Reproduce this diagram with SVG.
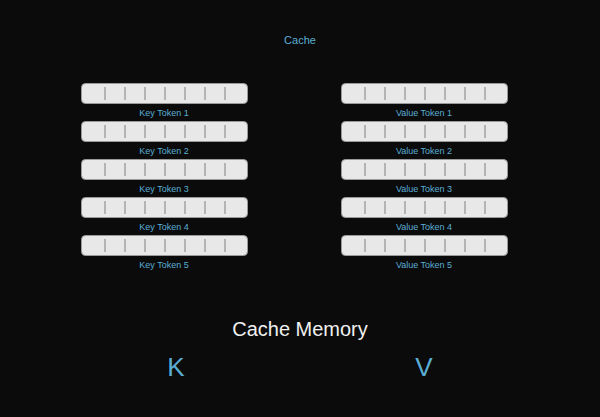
<svg xmlns="http://www.w3.org/2000/svg" width="600" height="417" viewBox="0 0 600 417">
<style>
.bar{fill:#e8e8e8;stroke:#9a9a9a;stroke-width:1}
.div{stroke:#808080;stroke-width:1}
.lbl{font-family:"Liberation Sans",sans-serif;font-size:9px;fill:#5aaed4;text-anchor:middle}
</style>
<defs>
<g id="bar"><rect class="bar" x="0.5" y="0.5" width="166" height="20" rx="4"/>
<path class="div" d="M24 4V17M44 4V17M64 4V17M84 4V17M104 4V17M124 4V17M144 4V17"/></g>
</defs>
<rect width="600" height="417" fill="#0b0b0b"/>
<text x="300" y="44" class="lbl" font-size="11" style="font-size:11px">Cache</text>
<g id="keys">
<g id="k1"><use href="#bar" x="81" y="83"/><text class="lbl" x="164" y="116">Key Token 1</text></g>
<g id="k2"><use href="#bar" x="81" y="121"/><text class="lbl" x="164" y="154">Key Token 2</text></g>
<g id="k3"><use href="#bar" x="81" y="159"/><text class="lbl" x="164" y="192">Key Token 3</text></g>
<g id="k4"><use href="#bar" x="81" y="197"/><text class="lbl" x="164" y="230">Key Token 4</text></g>
<g id="k5"><use href="#bar" x="81" y="235"/><text class="lbl" x="164" y="268">Key Token 5</text></g>
</g>
<g id="values">
<g id="v1"><use href="#bar" x="341" y="83"/><text class="lbl" x="424" y="116">Value Token 1</text></g>
<g id="v2"><use href="#bar" x="341" y="121"/><text class="lbl" x="424" y="154">Value Token 2</text></g>
<g id="v3"><use href="#bar" x="341" y="159"/><text class="lbl" x="424" y="192">Value Token 3</text></g>
<g id="v4"><use href="#bar" x="341" y="197"/><text class="lbl" x="424" y="230">Value Token 4</text></g>
<g id="v5"><use href="#bar" x="341" y="235"/><text class="lbl" x="424" y="268">Value Token 5</text></g>
</g>
<g id="connectors"/>
<text x="300" y="336" font-family="Liberation Sans,sans-serif" font-size="20" fill="#f0f0f0" text-anchor="middle">Cache Memory</text>
<text x="176" y="376" font-family="Liberation Sans,sans-serif" font-size="26" fill="#5aaed4" text-anchor="middle">K</text>
<text x="424" y="376" font-family="Liberation Sans,sans-serif" font-size="26" fill="#5aaed4" text-anchor="middle">V</text>
</svg>
